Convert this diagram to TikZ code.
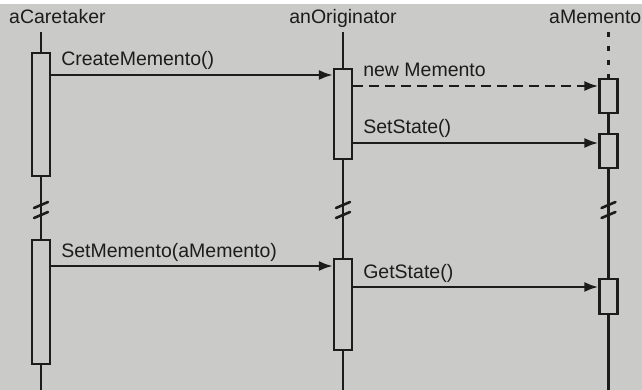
\documentclass[tikz,border=0pt]{standalone}
\usepackage{fontspec}
\setmainfont{Liberation Sans}
\usetikzlibrary{arrows.meta}
\definecolor{scan}{RGB}{202,202,200}
\definecolor{ink}{RGB}{28,28,28}
\tikzset{
  life/.style={line width=2.4pt, draw=ink},
  brk/.style={line width=2.6pt, draw=ink, line cap=round},
  actbox/.style={draw=ink, line width=2.2pt, fill=scan, minimum width=18pt, inner sep=0pt},
  msg/.style={line width=2.4pt, draw=ink, -{Latex[length=14pt,width=10pt]}},
  lbl/.style={anchor=base west, inner sep=0pt, text=ink, xshift=9pt, yshift=9pt},
  head/.style={inner sep=0pt, text=ink}
}
\begin{document}
\begin{tikzpicture}[x=1pt, y=-1pt, font=\fontsize{19.5}{22}\selectfont]
	\useasboundingbox (0,0) rectangle (642,390);
	\fill[scan] (0,0) rectangle (642,390);
	\fill[white] (0,0) rectangle (642,4);
	% object names
	\node[head, anchor=base west] (hcare) at (9,24) {aCaretaker};
	\node[head, anchor=base] (horig) at (343,24) {anOriginator};
	\node[head, anchor=base west] (hmem) at (549,24) {aMemento};
	% activation boxes
	\node[actbox, minimum height=123pt, anchor=north] (ct1) at (41,52) {};
	\node[actbox, minimum height=124pt, anchor=north] (ct2) at (41,239) {};
	\node[actbox, minimum height=90pt, anchor=north] (or1) at (343,68) {};
	\node[actbox, minimum height=91pt, anchor=north] (or2) at (343,258) {};
	\node[actbox, minimum height=34pt, anchor=north] (me1) at (608.5,78) {};
	\node[actbox, minimum height=34pt, anchor=north] (me2) at (608.5,133) {};
	\node[actbox, minimum height=35pt, anchor=north] (me3) at (608.5,278) {};
	% lifelines
	\coordinate (ctop) at (41,32);
	\coordinate (cbot) at (41,390);
	\coordinate (otop) at (343,32);
	\coordinate (obot) at (343,390);
	\coordinate (mtop) at (608.5,32);
	\coordinate (mbot) at (608.5,390);
	\draw[life] (ctop) -- (ct1.north);
	\draw[life] (ct1.south) -- (ct2.north);
	\draw[life] (ct2.south) -- (cbot);
	\draw[life] (otop) -- (or1.north);
	\draw[life] (or1.south) -- (or2.north);
	\draw[life] (or2.south) -- (obot);
	\draw[life, dash pattern=on 5pt off 9pt] (mtop) -- (me1.north);
	\draw[life] (me1.south) -- (me2.north);
	\draw[life] (me2.south) -- (me3.north);
	\draw[life] (me3.south) -- (mbot);
	% breaks
	\foreach \lx in {41,343,608.5}
		\foreach \ly in {205,215}
			\draw[brk] (\lx-7,\ly+3) -- (\lx+7,\ly-3);
	% messages
	\draw[msg] (ct1.east |- 0,75) -- (or1.west |- 0,75)
		node[pos=0, lbl] {CreateMemento()};
	\draw[msg, dash pattern=on 10pt off 6pt] (or1.east |- 0,86) -- (me1.west |- 0,86)
		node[pos=0, lbl] {new Memento};
	\draw[msg] (or1.east |- 0,143) -- (me2.west |- 0,143)
		node[pos=0, lbl] {SetState()};
	\draw[msg] (ct2.east |- 0,266) -- (or2.west |- 0,266)
		node[pos=0, lbl] {SetMemento(aMemento)};
	\draw[msg] (or2.east |- 0,287) -- (me3.west |- 0,287)
		node[pos=0, lbl] {GetState()};
\end{tikzpicture}
\end{document}
